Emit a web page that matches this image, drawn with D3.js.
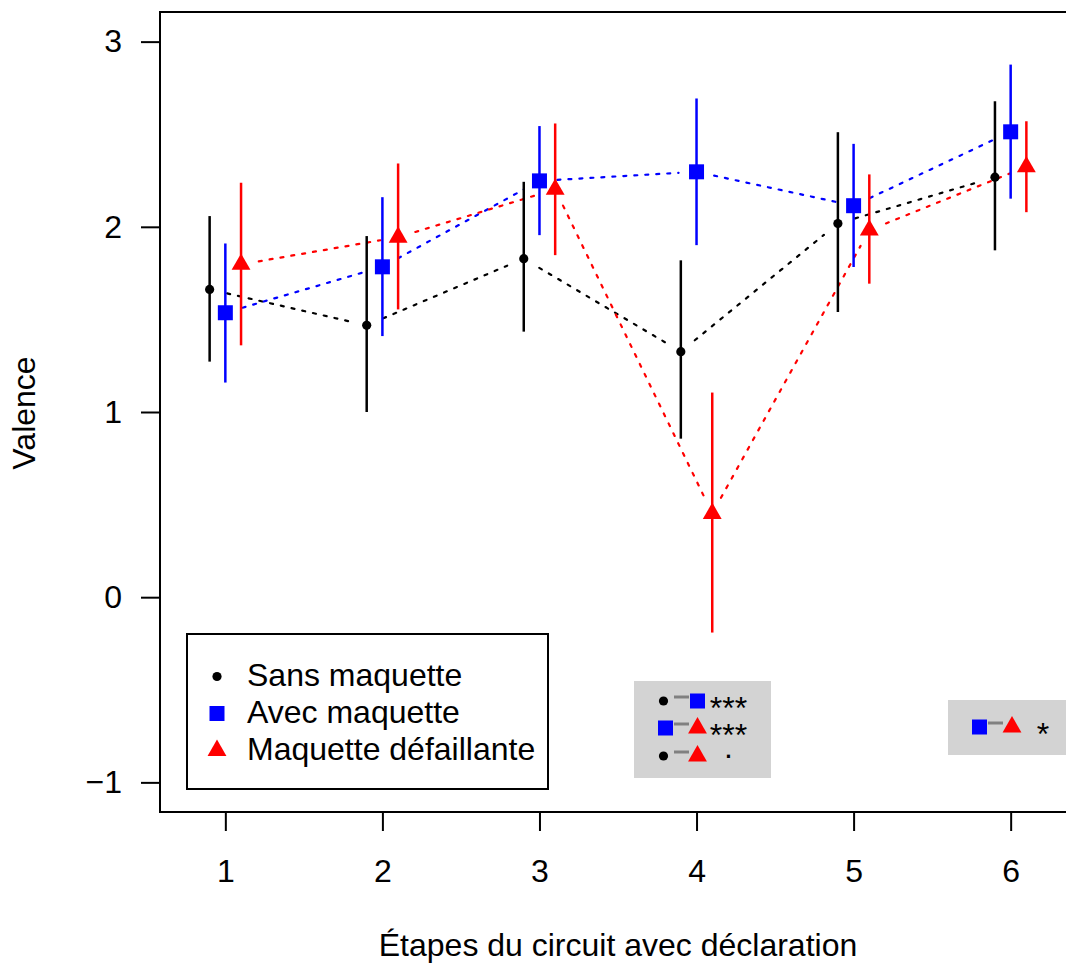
<!DOCTYPE html>
<html>
<head>
<meta charset="utf-8">
<script src="https://cdn.jsdelivr.net/npm/d3@7"></script>
<style>
  html, body { margin: 0; padding: 0; background: #fff; }
  svg { display: block; }
  text { font-family: "Liberation Sans", Arial, sans-serif; fill: #000; }
</style>
</head>
<body>
<div id="chart"></div>
<script>
// ---- Data ----
const steps = [1, 2, 3, 4, 5, 6];
const yTicks = [-1, 0, 1, 2, 3];

const sansMean = [1.662, 1.468, 1.828, 1.326, 2.018, 2.268];
const sansLow  = [1.272, 1.000, 1.434, 0.856, 1.540, 1.873];
const sansHigh = [2.058, 1.950, 2.243, 1.819, 2.511, 2.678];

const avecMean = [1.536, 1.784, 2.248, 2.297, 2.114, 2.513];
const avecLow  = [1.159, 1.410, 1.955, 1.901, 1.783, 2.152];
const avecHigh = [1.910, 2.160, 2.544, 2.693, 2.448, 2.876];

const defMean  = [1.797, 1.944, 2.202, 0.452, 1.982, 2.324];
const defLow   = [1.360, 1.554, 1.847, -0.191, 1.693, 2.079];
const defHigh  = [2.238, 2.342, 2.558, 1.105, 2.283, 2.570];

const seriesNames = ["Sans maquette", "Avec maquette", "Maquette défaillante"];
const xLabel = "Étapes du circuit avec déclaration";
const yLabel = "Valence";

// significance annotations
const sigBox1 = [
  { a: "dot", b: "square", label: "***" },
  { a: "square", b: "triangle", label: "***" },
  { a: "dot", b: "triangle", label: "." }
];
const sigBox2 = [
  { a: "square", b: "triangle", label: "*" }
];

// ---- Setup ----
const W = 1066, H = 964;
const FONT = 32;
const svg = d3.select("#chart").append("svg").attr("width", W).attr("height", H);

const x = d3.scaleLinear().domain([0.584, 6.416]).range([160, 1076]);
const y = d3.scaleLinear().domain([-1.16, 3.16]).range([812, 12]);

const series = [
  { name: seriesNames[0], mean: sansMean, low: sansLow, high: sansHigh, color: "#000000", off: -0.1, shape: "dot" },
  { name: seriesNames[1], mean: avecMean, low: avecLow, high: avecHigh, color: "#0000FF", off: 0, shape: "square" },
  { name: seriesNames[2], mean: defMean, low: defLow, high: defHigh, color: "#FF0000", off: 0.1, shape: "triangle" }
];
const shapeColor = { dot: "#000000", square: "#0000FF", triangle: "#FF0000" };

function drawShape(g, shape, cx, cy) {
  if (shape === "dot") {
    g.append("circle").attr("cx", cx).attr("cy", cy).attr("r", 4.6).attr("fill", shapeColor.dot);
  } else if (shape === "square") {
    const s = 15;
    g.append("rect").attr("x", cx - s / 2).attr("y", cy - s / 2).attr("width", s).attr("height", s).attr("fill", shapeColor.square);
  } else {
    const k = 7;
    const r = 1.5551 * k, xc = 1.3468 * k, yc = 0.7776 * k;
    g.append("path")
      .attr("d", `M${cx},${cy - r}L${cx + xc},${cy + yc}L${cx - xc},${cy + yc}Z`)
      .attr("fill", shapeColor.triangle);
  }
}

// ---- Dotted connecting lines with gaps (type "b") ----
const gap = 18;
const lines = svg.append("g");
series.forEach(s => {
  for (let i = 0; i < steps.length - 1; i++) {
    const x1 = x(steps[i] + s.off), y1 = y(s.mean[i]);
    const x2 = x(steps[i + 1] + s.off), y2 = y(s.mean[i + 1]);
    const len = Math.hypot(x2 - x1, y2 - y1);
    if (len <= 2 * gap) continue;
    const ux = (x2 - x1) / len, uy = (y2 - y1) / len;
    lines.append("line")
      .attr("x1", x1 + ux * gap).attr("y1", y1 + uy * gap)
      .attr("x2", x2 - ux * gap).attr("y2", y2 - uy * gap)
      .attr("stroke", s.color).attr("stroke-width", 2.2)
      .attr("stroke-dasharray", "3,8").attr("stroke-linecap", "round");
  }
});

// ---- Error bars ----
const bars = svg.append("g");
series.forEach(s => {
  steps.forEach((st, i) => {
    bars.append("line")
      .attr("x1", x(st + s.off)).attr("x2", x(st + s.off))
      .attr("y1", y(s.low[i])).attr("y2", y(s.high[i]))
      .attr("stroke", s.color).attr("stroke-width", 2.5);
  });
});

// ---- Points ----
const pts = svg.append("g");
series.forEach(s => {
  steps.forEach((st, i) => drawShape(pts, s.shape, x(st + s.off), y(s.mean[i])));
});

// ---- Frame ----
svg.append("rect").attr("x", 160).attr("y", 12).attr("width", 916).attr("height", 800)
  .attr("fill", "none").attr("stroke", "#000").attr("stroke-width", 2);

// ---- Axes ----
const yAxis = svg.append("g").attr("transform", "translate(160,0)")
  .call(d3.axisLeft(y).tickValues(yTicks).tickSize(19).tickPadding(19).tickFormat(d3.format("d")));
const xAxis = svg.append("g").attr("transform", "translate(0,812)")
  .call(d3.axisBottom(x).tickValues(steps).tickSize(19).tickFormat(d3.format("d")));
[yAxis, xAxis].forEach(a => {
  a.select(".domain").remove();
  a.selectAll(".tick line").attr("stroke", "#000").attr("stroke-width", 2);
  a.selectAll(".tick text").attr("font-size", FONT).attr("font-family", "Liberation Sans, Arial, sans-serif").attr("fill", "#000");
});
xAxis.selectAll(".tick text").attr("y", 70).attr("dy", null);

// ---- Axis titles ----
svg.append("text").attr("x", 618).attr("y", 956).attr("text-anchor", "middle")
  .attr("font-size", FONT).text(xLabel);
svg.append("text").attr("transform", "translate(35,413) rotate(-90)").attr("text-anchor", "middle")
  .attr("font-size", FONT).text(yLabel);

// ---- Legend ----
const leg = svg.append("g");
leg.append("rect").attr("x", 187).attr("y", 634).attr("width", 361).attr("height", 155)
  .attr("fill", "#fff").attr("stroke", "#000").attr("stroke-width", 2);
const legRowY = [676.5, 713.5, 750.5];
series.forEach((s, i) => {
  drawShape(leg, s.shape, 217, legRowY[i]);
  leg.append("text").attr("x", 247).attr("y", legRowY[i] + 9).attr("font-size", FONT).text(s.name);
});

// ---- Significance boxes ----
function sigBox(bx, by, bw, bh, rows, rowY, xa, xSegA, xSegB, xb, xText) {
  const g = svg.append("g");
  g.append("rect").attr("x", bx).attr("y", by).attr("width", bw).attr("height", bh).attr("fill", "#D3D3D3");
  const t = g.append("text").attr("text-anchor", "middle").attr("font-size", FONT);
  rows.forEach((r, i) => {
    const cy = rowY[i];
    g.append("line").attr("x1", xSegA).attr("x2", xSegB).attr("y1", cy - 4).attr("y2", cy - 4)
      .attr("stroke", "#808080").attr("stroke-width", 3);
    const ax = r.a === "square" ? xa + 2 : xa;
    drawShape(g, r.a, ax, cy);
    drawShape(g, r.b, xb, cy);
    const ty = r.label === "." ? cy + 2 : cy + 18;
    t.append("tspan").attr("x", xText).attr("y", ty).text(r.label);
  });
}
sigBox(634, 681, 137, 97, sigBox1, [701, 728, 756], 663.5, 674, 689, 697.5, 728.5);
sigBox(948, 700, 130, 55, sigBox2, [727], 977.5, 988, 1003, 1012, 1043);
</script>
</body>
</html>
